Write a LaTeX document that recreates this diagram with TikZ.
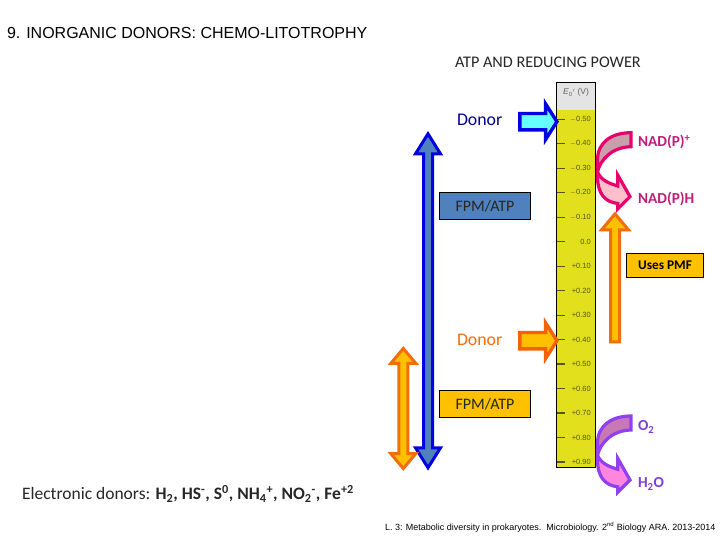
\documentclass[tikz,border=0pt]{standalone}
\usepackage{fontspec}
\setmainfont{Carlito}
\newfontfamily\arialfont{Liberation Sans}
\usetikzlibrary{arrows,positioning,calc,shapes.arrows}
\definecolor{barYellow}{HTML}{E2E01C}
\definecolor{barGray}{HTML}{E4E4E4}
\definecolor{scaleInk}{HTML}{55551A}
\definecolor{fpmBlue}{HTML}{4F81BD}
\definecolor{pmfGold}{HTML}{FFC000}
\definecolor{deepBlue}{HTML}{0000E0}
\definecolor{deepOrange}{HTML}{F26D0C}
\definecolor{paleCyan}{HTML}{66FFFF}
\definecolor{nadLine}{HTML}{E8006F}
\definecolor{nadText}{HTML}{BE1E78}
\definecolor{nadUpper}{HTML}{C9A0AA}
\definecolor{nadLower}{HTML}{FFC0CB}
\definecolor{oxyLine}{HTML}{9040F0}
\definecolor{oxyText}{HTML}{7F3FD0}
\definecolor{oxyUpper}{HTML}{C878B4}
\definecolor{oxyLower}{HTML}{FF85DE}
\tikzset{lbl/.style={inner sep=0pt, outer sep=0pt, anchor=west}}
\tikzset{fpmbox/.style={draw=black, line width=0.9pt, minimum width=91pt, minimum height=27pt, inner sep=0pt, font=\fontsize{16}{18}\selectfont, text=black!85}}
\tikzset{updown/.style={double arrow, rotate=90, line width=3pt, inner sep=3pt, outer sep=0pt, double arrow head extend=8pt}}
\tikzset{donorarrow/.style={single arrow, line width=3.4pt, inner sep=6.5pt, outer sep=0pt, minimum height=37pt, minimum width=33pt, single arrow head extend=9.5pt, single arrow tip angle=115}}
\newcommand{\redoxpair}[3]{
	\draw[draw=#1, line width=3.2pt, fill=#3] (597.5,172) .. controls (601,180) and (608,183) .. (617.7,186) -- (617.7,175) -- (630,196.7) -- (617.7,209) -- (617.7,203.5) .. controls (605,202) and (597.5,194) .. (597.5,176) -- cycle;
	\draw[draw=#1, line width=3.2pt, fill=#2] (631,132.7) .. controls (612,132.7) and (597.5,142) .. (597.5,160) -- (597.5,172) .. controls (600,160) and (612,147) .. (631,146.7) -- cycle;
}

\begin{document}
\begin{tikzpicture}[x=1pt, y=-1pt]
	\useasboundingbox (0,0) rectangle (720,540);
	\node[lbl, font=\arialfont\fontsize{16}{18}\selectfont] (title) at (7,33) {9. INORGANIC DONORS: CHEMO-LITOTROPHY};
	\node[lbl, font=\fontsize{16.2}{18}\selectfont, text=black!85] (power) at (455,62) {ATP AND REDUCING POWER};

	% potential scale
	\node[draw=black, fill=barYellow, line width=1pt, minimum width=39pt, minimum height=384.6pt, inner sep=0pt, outer sep=0pt] (scalebar) at (576.2,275) {};
	\fill[barGray] (557.2,83.2) rectangle (595.2,110);
	\node[font=\arialfont\fontsize{8.5}{10}\selectfont, text=black!60] (header) at (576,92.7) {\textit{E}\textsubscript{0}$'$ (V)};
	\foreach \val/\tw [count=\i from 0] in {$-$0.50/0.6,$-$0.40/1.3,$-$0.30/0.6,$-$0.20/1.3,$-$0.10/0.6,0.0/1.3,+0.10/0.6,+0.20/0.6,+0.30/0.6,+0.40/0.6,+0.50/1.3,+0.60/0.6,+0.70/1.3,+0.80/0.6,+0.90/1.3}{
		\pgfmathsetmacro{\ty}{119.3+24.48*\i}
		\draw[scaleInk, line width=\tw pt] (557,\ty) -- (564.5,\ty);
		\node[anchor=east, inner sep=0pt, font=\arialfont\fontsize{7.5}{9}\selectfont, text=scaleInk] (val\i) at (591,\ty) {\val};
	}

	% big vertical arrows
	\node[updown, draw=deepBlue, fill=fpmBlue, minimum height=334pt, minimum width=23pt, double arrow tip angle=64] (range) at (428,300.8) {};
	\node[updown, draw=deepOrange, fill=pmfGold, minimum height=120pt, minimum width=24pt, double arrow tip angle=80] (rangelow) at (403.3,408.5) {};
	\node[single arrow, rotate=90, draw=deepOrange, fill=pmfGold, line width=3pt, inner sep=3pt, outer sep=0pt, minimum height=128pt, minimum width=24pt, single arrow head extend=9pt, single arrow tip angle=80] (pmfarrow) at (615,280.5) {};

	% donors
	\node[lbl, font=\fontsize{17.8}{20}\selectfont, text=blue!55!black] (donortop) at (457,120) {Donor};
	\node[donorarrow, draw=deepBlue, fill=paleCyan] (donortoparrow) at (535.8,121.7) {};
	\node[lbl, font=\fontsize{17.8}{20}\selectfont, text=deepOrange] (donorlow) at (457,340) {Donor};
	\node[donorarrow, draw=deepOrange!90!red, fill=pmfGold] (donorlowarrow) at (535.8,340.7) {};

	% boxes
	\node[fpmbox, fill=fpmBlue] (fpmtop) at (485,205.8) {FPM/ATP};
	\node[fpmbox, fill=pmfGold] (fpmlow) at (485,403.8) {FPM/ATP};
	\node[draw=black, line width=0.9pt, fill=pmfGold, minimum width=77pt, minimum height=24pt, inner sep=0pt, font=\bfseries\fontsize{13.3}{15}\selectfont] (pmf) at (665,265.3) {Uses PMF};

	% redox couples
	\redoxpair{nadLine}{nadUpper}{nadLower}
	\begin{scope}[shift={(0,283.3)}]
		\redoxpair{oxyLine}{oxyUpper}{oxyLower}
	\end{scope}
	\node[lbl, font=\bfseries\fontsize{15.3}{17}\selectfont, text=nadText] (nadox) at (638,142) {NAD(P)\textsuperscript{+}};
	\node[lbl, font=\bfseries\fontsize{15.3}{17}\selectfont, text=nadText] (nadred) at (638,199) {NAD(P)H};
	\node[lbl, font=\bfseries\fontsize{15.3}{17}\selectfont, text=oxyText] (oxygen) at (638,427) {O\textsubscript{2}};
	\node[lbl, font=\bfseries\fontsize{15.3}{17}\selectfont, text=oxyText] (water) at (638,484) {H\textsubscript{2}O};

	% footer texts
	\node[lbl, font=\fontsize{17.5}{20}\selectfont, text=black!85] (electronic) at (22,494) {Electronic donors: \textbf{H\textsubscript{2}, HS\textsuperscript{-}, S\textsuperscript{0}, NH\textsubscript{4}\textsuperscript{+}, NO\textsubscript{2}\textsuperscript{-}, Fe\textsuperscript{+2}}};
	\node[lbl, font=\arialfont\fontsize{9}{10}\selectfont] (credit) at (385,527) {L. 3: Metabolic diversity in prokaryotes.\ \ Microbiology. 2\textsuperscript{nd} Biology ARA. 2013-2014};
\end{tikzpicture}
\end{document}
